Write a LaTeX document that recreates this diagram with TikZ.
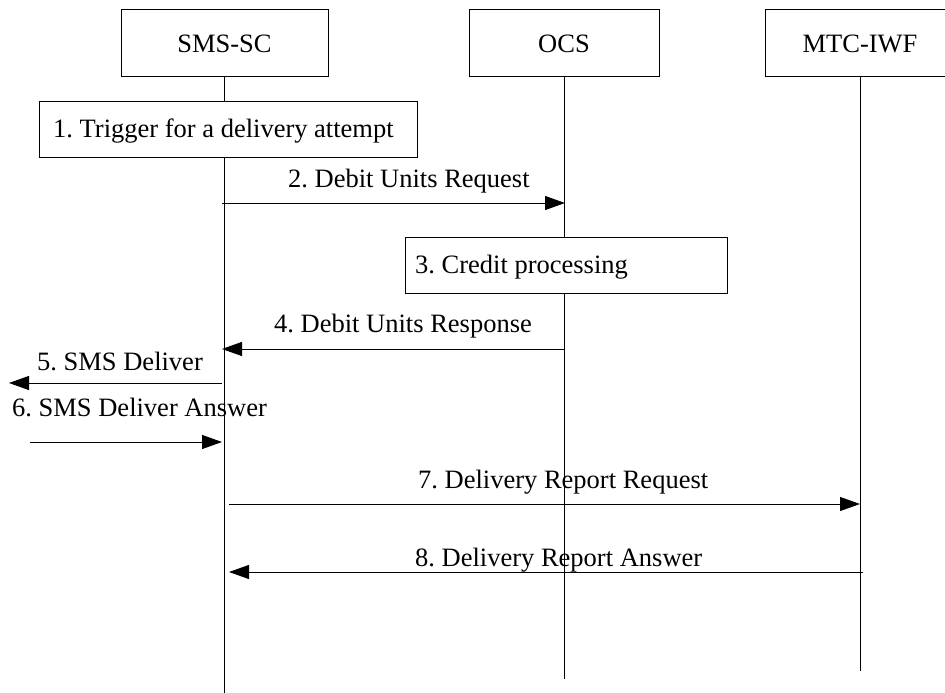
\documentclass[tikz,border=0pt]{standalone}
\usepackage{fontspec}
\setmainfont{Liberation Serif}
\usetikzlibrary{arrows.meta}
\frenchspacing
\begin{document}
\begin{tikzpicture}[x=1pt,y=-1pt,
  every node/.style={font=\fontsize{26.5}{31}\selectfont},
  entity/.style={draw,fill=white,line width=1pt,minimum height=67pt,inner sep=0pt},
  procbox/.style={draw,fill=white,line width=1pt,inner sep=0pt},
  lifeline/.style={line width=1pt},
  msg/.style={line width=1pt,-{Triangle[length=20pt,width=14pt]}},
  lbl/.style={anchor=base west,inner sep=0pt}]
\useasboundingbox (0,0) rectangle (945,693);
\clip (0,0) rectangle (945,693);
\fill[white] (0,0) rectangle (945,693);

% lifeline coordinates
\coordinate (smsend) at (224,693);
\coordinate (ocsend) at (564,679);
\coordinate (mtcend) at (860,671);

% entity boxes
\node[entity,minimum width=207pt] (sms) at (224.5,43.5) {SMS-SC};
\node[entity,minimum width=190pt] (ocs) at (564,43.5) {OCS};
\node[entity,minimum width=190pt] (mtc) at (860,43.5) {MTC-IWF};

% lifelines
\draw[lifeline] (sms.south -| smsend) -- (smsend);
\draw[lifeline] (ocs.south) -- (ocsend);
\draw[lifeline] (mtc.south) -- (mtcend);

% process boxes
\node[procbox,minimum width=378pt,minimum height=56pt] (trig) at (228,129) {};
\node[lbl] (trigt) at (53,137) {1. Trigger for a delivery attempt};
\node[procbox,minimum width=322pt,minimum height=56pt] (cred) at (566,265) {};
\node[lbl] (credt) at (415,273) {3. Credit processing};

% message coordinates
\coordinate (m2a) at (222,203);  \coordinate (m2b) at (565,203);
\coordinate (m4a) at (564,349);  \coordinate (m4b) at (222,349);
\coordinate (m5a) at (222,383);  \coordinate (m5b) at (9,383);
\coordinate (m6a) at (30,442);   \coordinate (m6b) at (222,442);
\coordinate (m7a) at (229,504);  \coordinate (m7b) at (860,504);
\coordinate (m8a) at (863,572);  \coordinate (m8b) at (229,572);

% messages
\draw[msg] (m2a) -- (m2b);
\node[lbl] (l2) at (288,187) {2. Debit Units Request};
\draw[msg] (m4a) -- (m4b);
\node[lbl] (l4) at (274,332) {4. Debit Units Response};
\draw[msg] (m5a) -- (m5b);
\node[lbl] (l5) at (37,370) {5. SMS Deliver};
\draw[msg] (m6a) -- (m6b);
\node[lbl] (l6) at (12,416) {6. SMS Deliver Answer};
\draw[msg] (m7a) -- (m7b);
\node[lbl] (l7) at (418,488) {7. Delivery Report Request};
\draw[msg] (m8a) -- (m8b);
\node[lbl] (l8) at (415,566) {8. Delivery Report Answer};
\end{tikzpicture}
\end{document}
